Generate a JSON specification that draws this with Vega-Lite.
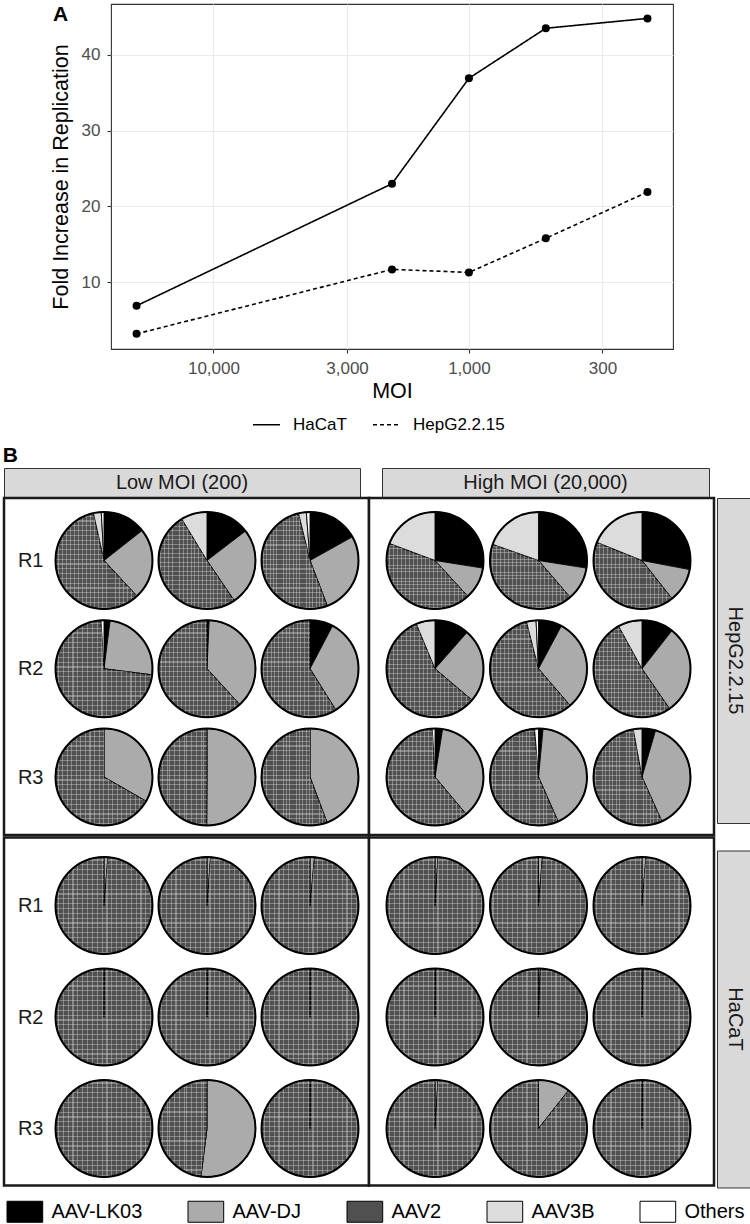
{
  "$schema": "https://vega.github.io/schema/vega-lite/v6.json",
  "padding": {"left": 2, "top": 1, "right": 0, "bottom": 0},
  "background": "white",
  "config": {
    "font": "Liberation Sans",
    "view": {"stroke": null},
    "concat": {"spacing": 0}
  },
  "params": [
    {"name": "gv", "value": {"gradient": "linear", "x1": 0, "y1": 0, "x2": 1, "y2": 0, "stops": [
      {"offset": 0, "color": "rgba(255,255,255,0)"},
      {"offset": 0.025, "color": "rgba(255,255,255,0)"}, {"offset": 0.025, "color": "rgba(215,215,215,0.4)"}, {"offset": 0.037, "color": "rgba(215,215,215,0.4)"}, {"offset": 0.037, "color": "rgba(255,255,255,0)"},
      {"offset": 0.075, "color": "rgba(255,255,255,0)"}, {"offset": 0.075, "color": "rgba(215,215,215,0.4)"}, {"offset": 0.087, "color": "rgba(215,215,215,0.4)"}, {"offset": 0.087, "color": "rgba(255,255,255,0)"},
      {"offset": 0.125, "color": "rgba(255,255,255,0)"}, {"offset": 0.125, "color": "rgba(215,215,215,0.4)"}, {"offset": 0.137, "color": "rgba(215,215,215,0.4)"}, {"offset": 0.137, "color": "rgba(255,255,255,0)"},
      {"offset": 0.175, "color": "rgba(255,255,255,0)"}, {"offset": 0.175, "color": "rgba(215,215,215,0.4)"}, {"offset": 0.187, "color": "rgba(215,215,215,0.4)"}, {"offset": 0.187, "color": "rgba(255,255,255,0)"},
      {"offset": 0.225, "color": "rgba(255,255,255,0)"}, {"offset": 0.225, "color": "rgba(215,215,215,0.4)"}, {"offset": 0.237, "color": "rgba(215,215,215,0.4)"}, {"offset": 0.237, "color": "rgba(255,255,255,0)"},
      {"offset": 0.275, "color": "rgba(255,255,255,0)"}, {"offset": 0.275, "color": "rgba(215,215,215,0.4)"}, {"offset": 0.287, "color": "rgba(215,215,215,0.4)"}, {"offset": 0.287, "color": "rgba(255,255,255,0)"},
      {"offset": 0.325, "color": "rgba(255,255,255,0)"}, {"offset": 0.325, "color": "rgba(215,215,215,0.4)"}, {"offset": 0.337, "color": "rgba(215,215,215,0.4)"}, {"offset": 0.337, "color": "rgba(255,255,255,0)"},
      {"offset": 0.375, "color": "rgba(255,255,255,0)"}, {"offset": 0.375, "color": "rgba(215,215,215,0.4)"}, {"offset": 0.387, "color": "rgba(215,215,215,0.4)"}, {"offset": 0.387, "color": "rgba(255,255,255,0)"},
      {"offset": 0.425, "color": "rgba(255,255,255,0)"}, {"offset": 0.425, "color": "rgba(215,215,215,0.4)"}, {"offset": 0.437, "color": "rgba(215,215,215,0.4)"}, {"offset": 0.437, "color": "rgba(255,255,255,0)"},
      {"offset": 0.475, "color": "rgba(255,255,255,0)"}, {"offset": 0.475, "color": "rgba(215,215,215,0.4)"}, {"offset": 0.487, "color": "rgba(215,215,215,0.4)"}, {"offset": 0.487, "color": "rgba(255,255,255,0)"},
      {"offset": 0.525, "color": "rgba(255,255,255,0)"}, {"offset": 0.525, "color": "rgba(215,215,215,0.4)"}, {"offset": 0.537, "color": "rgba(215,215,215,0.4)"}, {"offset": 0.537, "color": "rgba(255,255,255,0)"},
      {"offset": 0.575, "color": "rgba(255,255,255,0)"}, {"offset": 0.575, "color": "rgba(215,215,215,0.4)"}, {"offset": 0.587, "color": "rgba(215,215,215,0.4)"}, {"offset": 0.587, "color": "rgba(255,255,255,0)"},
      {"offset": 0.625, "color": "rgba(255,255,255,0)"}, {"offset": 0.625, "color": "rgba(215,215,215,0.4)"}, {"offset": 0.637, "color": "rgba(215,215,215,0.4)"}, {"offset": 0.637, "color": "rgba(255,255,255,0)"},
      {"offset": 0.675, "color": "rgba(255,255,255,0)"}, {"offset": 0.675, "color": "rgba(215,215,215,0.4)"}, {"offset": 0.687, "color": "rgba(215,215,215,0.4)"}, {"offset": 0.687, "color": "rgba(255,255,255,0)"},
      {"offset": 0.725, "color": "rgba(255,255,255,0)"}, {"offset": 0.725, "color": "rgba(215,215,215,0.4)"}, {"offset": 0.737, "color": "rgba(215,215,215,0.4)"}, {"offset": 0.737, "color": "rgba(255,255,255,0)"},
      {"offset": 0.775, "color": "rgba(255,255,255,0)"}, {"offset": 0.775, "color": "rgba(215,215,215,0.4)"}, {"offset": 0.787, "color": "rgba(215,215,215,0.4)"}, {"offset": 0.787, "color": "rgba(255,255,255,0)"},
      {"offset": 0.825, "color": "rgba(255,255,255,0)"}, {"offset": 0.825, "color": "rgba(215,215,215,0.4)"}, {"offset": 0.837, "color": "rgba(215,215,215,0.4)"}, {"offset": 0.837, "color": "rgba(255,255,255,0)"},
      {"offset": 0.875, "color": "rgba(255,255,255,0)"}, {"offset": 0.875, "color": "rgba(215,215,215,0.4)"}, {"offset": 0.887, "color": "rgba(215,215,215,0.4)"}, {"offset": 0.887, "color": "rgba(255,255,255,0)"},
      {"offset": 0.925, "color": "rgba(255,255,255,0)"}, {"offset": 0.925, "color": "rgba(215,215,215,0.4)"}, {"offset": 0.937, "color": "rgba(215,215,215,0.4)"}, {"offset": 0.937, "color": "rgba(255,255,255,0)"},
      {"offset": 0.975, "color": "rgba(255,255,255,0)"}, {"offset": 0.975, "color": "rgba(215,215,215,0.4)"}, {"offset": 0.987, "color": "rgba(215,215,215,0.4)"}, {"offset": 0.987, "color": "rgba(255,255,255,0)"},
      {"offset": 1, "color": "rgba(255,255,255,0)"}
    ]}},
    {"name": "gh", "value": {"gradient": "linear", "x1": 0, "y1": 0, "x2": 0, "y2": 1, "stops": [
      {"offset": 0, "color": "rgba(255,255,255,0)"},
      {"offset": 0.025, "color": "rgba(255,255,255,0)"}, {"offset": 0.025, "color": "rgba(215,215,215,0.4)"}, {"offset": 0.037, "color": "rgba(215,215,215,0.4)"}, {"offset": 0.037, "color": "rgba(255,255,255,0)"},
      {"offset": 0.075, "color": "rgba(255,255,255,0)"}, {"offset": 0.075, "color": "rgba(215,215,215,0.4)"}, {"offset": 0.087, "color": "rgba(215,215,215,0.4)"}, {"offset": 0.087, "color": "rgba(255,255,255,0)"},
      {"offset": 0.125, "color": "rgba(255,255,255,0)"}, {"offset": 0.125, "color": "rgba(215,215,215,0.4)"}, {"offset": 0.137, "color": "rgba(215,215,215,0.4)"}, {"offset": 0.137, "color": "rgba(255,255,255,0)"},
      {"offset": 0.175, "color": "rgba(255,255,255,0)"}, {"offset": 0.175, "color": "rgba(215,215,215,0.4)"}, {"offset": 0.187, "color": "rgba(215,215,215,0.4)"}, {"offset": 0.187, "color": "rgba(255,255,255,0)"},
      {"offset": 0.225, "color": "rgba(255,255,255,0)"}, {"offset": 0.225, "color": "rgba(215,215,215,0.4)"}, {"offset": 0.237, "color": "rgba(215,215,215,0.4)"}, {"offset": 0.237, "color": "rgba(255,255,255,0)"},
      {"offset": 0.275, "color": "rgba(255,255,255,0)"}, {"offset": 0.275, "color": "rgba(215,215,215,0.4)"}, {"offset": 0.287, "color": "rgba(215,215,215,0.4)"}, {"offset": 0.287, "color": "rgba(255,255,255,0)"},
      {"offset": 0.325, "color": "rgba(255,255,255,0)"}, {"offset": 0.325, "color": "rgba(215,215,215,0.4)"}, {"offset": 0.337, "color": "rgba(215,215,215,0.4)"}, {"offset": 0.337, "color": "rgba(255,255,255,0)"},
      {"offset": 0.375, "color": "rgba(255,255,255,0)"}, {"offset": 0.375, "color": "rgba(215,215,215,0.4)"}, {"offset": 0.387, "color": "rgba(215,215,215,0.4)"}, {"offset": 0.387, "color": "rgba(255,255,255,0)"},
      {"offset": 0.425, "color": "rgba(255,255,255,0)"}, {"offset": 0.425, "color": "rgba(215,215,215,0.4)"}, {"offset": 0.437, "color": "rgba(215,215,215,0.4)"}, {"offset": 0.437, "color": "rgba(255,255,255,0)"},
      {"offset": 0.475, "color": "rgba(255,255,255,0)"}, {"offset": 0.475, "color": "rgba(215,215,215,0.4)"}, {"offset": 0.487, "color": "rgba(215,215,215,0.4)"}, {"offset": 0.487, "color": "rgba(255,255,255,0)"},
      {"offset": 0.525, "color": "rgba(255,255,255,0)"}, {"offset": 0.525, "color": "rgba(215,215,215,0.4)"}, {"offset": 0.537, "color": "rgba(215,215,215,0.4)"}, {"offset": 0.537, "color": "rgba(255,255,255,0)"},
      {"offset": 0.575, "color": "rgba(255,255,255,0)"}, {"offset": 0.575, "color": "rgba(215,215,215,0.4)"}, {"offset": 0.587, "color": "rgba(215,215,215,0.4)"}, {"offset": 0.587, "color": "rgba(255,255,255,0)"},
      {"offset": 0.625, "color": "rgba(255,255,255,0)"}, {"offset": 0.625, "color": "rgba(215,215,215,0.4)"}, {"offset": 0.637, "color": "rgba(215,215,215,0.4)"}, {"offset": 0.637, "color": "rgba(255,255,255,0)"},
      {"offset": 0.675, "color": "rgba(255,255,255,0)"}, {"offset": 0.675, "color": "rgba(215,215,215,0.4)"}, {"offset": 0.687, "color": "rgba(215,215,215,0.4)"}, {"offset": 0.687, "color": "rgba(255,255,255,0)"},
      {"offset": 0.725, "color": "rgba(255,255,255,0)"}, {"offset": 0.725, "color": "rgba(215,215,215,0.4)"}, {"offset": 0.737, "color": "rgba(215,215,215,0.4)"}, {"offset": 0.737, "color": "rgba(255,255,255,0)"},
      {"offset": 0.775, "color": "rgba(255,255,255,0)"}, {"offset": 0.775, "color": "rgba(215,215,215,0.4)"}, {"offset": 0.787, "color": "rgba(215,215,215,0.4)"}, {"offset": 0.787, "color": "rgba(255,255,255,0)"},
      {"offset": 0.825, "color": "rgba(255,255,255,0)"}, {"offset": 0.825, "color": "rgba(215,215,215,0.4)"}, {"offset": 0.837, "color": "rgba(215,215,215,0.4)"}, {"offset": 0.837, "color": "rgba(255,255,255,0)"},
      {"offset": 0.875, "color": "rgba(255,255,255,0)"}, {"offset": 0.875, "color": "rgba(215,215,215,0.4)"}, {"offset": 0.887, "color": "rgba(215,215,215,0.4)"}, {"offset": 0.887, "color": "rgba(255,255,255,0)"},
      {"offset": 0.925, "color": "rgba(255,255,255,0)"}, {"offset": 0.925, "color": "rgba(215,215,215,0.4)"}, {"offset": 0.937, "color": "rgba(215,215,215,0.4)"}, {"offset": 0.937, "color": "rgba(255,255,255,0)"},
      {"offset": 0.975, "color": "rgba(255,255,255,0)"}, {"offset": 0.975, "color": "rgba(215,215,215,0.4)"}, {"offset": 0.987, "color": "rgba(215,215,215,0.4)"}, {"offset": 0.987, "color": "rgba(255,255,255,0)"},
      {"offset": 1, "color": "rgba(255,255,255,0)"}
    ]}}
  ],
  "datasets": {
    "lines": [
      {"cell": "HaCaT", "moi": 20000, "fold": 6.9},
      {"cell": "HaCaT", "moi": 2000, "fold": 23.0},
      {"cell": "HaCaT", "moi": 1000, "fold": 36.9},
      {"cell": "HaCaT", "moi": 500, "fold": 43.5},
      {"cell": "HaCaT", "moi": 200, "fold": 44.8},
      {"cell": "HepG2.2.15", "moi": 20000, "fold": 3.2},
      {"cell": "HepG2.2.15", "moi": 2000, "fold": 11.7},
      {"cell": "HepG2.2.15", "moi": 1000, "fold": 11.3},
      {"cell": "HepG2.2.15", "moi": 500, "fold": 15.8},
      {"cell": "HepG2.2.15", "moi": 200, "fold": 21.9}
    ],
    "pies": [
      {"cell": "HepG2.2.15", "moi": "Low", "rep": 1, "pie": 1, "AAV-LK03": 14.4, "AAV-DJ": 23.7, "AAV2": 58.4, "AAV3B": 2.6, "Others": 0.9},
      {"cell": "HepG2.2.15", "moi": "Low", "rep": 1, "pie": 2, "AAV-LK03": 14.6, "AAV-DJ": 25.9, "AAV2": 50.8, "AAV3B": 8.7, "Others": 0},
      {"cell": "HepG2.2.15", "moi": "Low", "rep": 1, "pie": 3, "AAV-LK03": 16.9, "AAV-DJ": 27.3, "AAV2": 52.0, "AAV3B": 2.6, "Others": 1.2},
      {"cell": "HepG2.2.15", "moi": "Low", "rep": 2, "pie": 1, "AAV-LK03": 2.0, "AAV-DJ": 25.0, "AAV2": 72.0, "AAV3B": 0, "Others": 1.0},
      {"cell": "HepG2.2.15", "moi": "Low", "rep": 2, "pie": 2, "AAV-LK03": 0.7, "AAV-DJ": 37.5, "AAV2": 61.8, "AAV3B": 0, "Others": 0},
      {"cell": "HepG2.2.15", "moi": "Low", "rep": 2, "pie": 3, "AAV-LK03": 7.7, "AAV-DJ": 33.4, "AAV2": 58.9, "AAV3B": 0, "Others": 0},
      {"cell": "HepG2.2.15", "moi": "Low", "rep": 3, "pie": 1, "AAV-LK03": 0, "AAV-DJ": 33.3, "AAV2": 66.7, "AAV3B": 0, "Others": 0},
      {"cell": "HepG2.2.15", "moi": "Low", "rep": 3, "pie": 2, "AAV-LK03": 0, "AAV-DJ": 50.1, "AAV2": 49.9, "AAV3B": 0, "Others": 0},
      {"cell": "HepG2.2.15", "moi": "Low", "rep": 3, "pie": 3, "AAV-LK03": 0, "AAV-DJ": 44.3, "AAV2": 55.7, "AAV3B": 0, "Others": 0},
      {"cell": "HepG2.2.15", "moi": "High", "rep": 1, "pie": 1, "AAV-LK03": 27.5, "AAV-DJ": 10.7, "AAV2": 42.5, "AAV3B": 19.3, "Others": 0},
      {"cell": "HepG2.2.15", "moi": "High", "rep": 1, "pie": 2, "AAV-LK03": 27.5, "AAV-DJ": 11.2, "AAV2": 41.7, "AAV3B": 19.6, "Others": 0},
      {"cell": "HepG2.2.15", "moi": "High", "rep": 1, "pie": 3, "AAV-LK03": 28.0, "AAV-DJ": 11.4, "AAV2": 41.7, "AAV3B": 18.9, "Others": 0},
      {"cell": "HepG2.2.15", "moi": "High", "rep": 2, "pie": 1, "AAV-LK03": 11.5, "AAV-DJ": 24.7, "AAV2": 57.5, "AAV3B": 6.3, "Others": 0},
      {"cell": "HepG2.2.15", "moi": "High", "rep": 2, "pie": 2, "AAV-LK03": 7.8, "AAV-DJ": 30.9, "AAV2": 57.3, "AAV3B": 3.2, "Others": 0.8},
      {"cell": "HepG2.2.15", "moi": "High", "rep": 2, "pie": 3, "AAV-LK03": 10.6, "AAV-DJ": 29.8, "AAV2": 51.6, "AAV3B": 8.0, "Others": 0},
      {"cell": "HepG2.2.15", "moi": "High", "rep": 3, "pie": 1, "AAV-LK03": 2.5, "AAV-DJ": 36.4, "AAV2": 60.2, "AAV3B": 0, "Others": 0.9},
      {"cell": "HepG2.2.15", "moi": "High", "rep": 3, "pie": 2, "AAV-LK03": 1.5, "AAV-DJ": 41.9, "AAV2": 55.3, "AAV3B": 0, "Others": 1.3},
      {"cell": "HepG2.2.15", "moi": "High", "rep": 3, "pie": 3, "AAV-LK03": 4.5, "AAV-DJ": 38.8, "AAV2": 53.8, "AAV3B": 2.9, "Others": 0},
      {"cell": "HaCaT", "moi": "Low", "rep": 1, "pie": 1, "AAV-LK03": 0, "AAV-DJ": 1.3, "AAV2": 98.7, "AAV3B": 0, "Others": 0},
      {"cell": "HaCaT", "moi": "Low", "rep": 1, "pie": 2, "AAV-LK03": 0, "AAV-DJ": 1.2, "AAV2": 98.8, "AAV3B": 0, "Others": 0},
      {"cell": "HaCaT", "moi": "Low", "rep": 1, "pie": 3, "AAV-LK03": 0, "AAV-DJ": 1.5, "AAV2": 98.5, "AAV3B": 0, "Others": 0},
      {"cell": "HaCaT", "moi": "Low", "rep": 2, "pie": 1, "AAV-LK03": 0, "AAV-DJ": 0.1, "AAV2": 99.9, "AAV3B": 0, "Others": 0},
      {"cell": "HaCaT", "moi": "Low", "rep": 2, "pie": 2, "AAV-LK03": 0, "AAV-DJ": 0.1, "AAV2": 99.9, "AAV3B": 0, "Others": 0},
      {"cell": "HaCaT", "moi": "Low", "rep": 2, "pie": 3, "AAV-LK03": 0, "AAV-DJ": 0.1, "AAV2": 99.9, "AAV3B": 0, "Others": 0},
      {"cell": "HaCaT", "moi": "Low", "rep": 3, "pie": 1, "AAV-LK03": 0, "AAV-DJ": 0, "AAV2": 100, "AAV3B": 0, "Others": 0},
      {"cell": "HaCaT", "moi": "Low", "rep": 3, "pie": 2, "AAV-LK03": 0, "AAV-DJ": 52.0, "AAV2": 48.0, "AAV3B": 0, "Others": 0},
      {"cell": "HaCaT", "moi": "Low", "rep": 3, "pie": 3, "AAV-LK03": 0, "AAV-DJ": 0.1, "AAV2": 99.9, "AAV3B": 0, "Others": 0},
      {"cell": "HaCaT", "moi": "High", "rep": 1, "pie": 1, "AAV-LK03": 0, "AAV-DJ": 1.0, "AAV2": 99.0, "AAV3B": 0, "Others": 0},
      {"cell": "HaCaT", "moi": "High", "rep": 1, "pie": 2, "AAV-LK03": 0, "AAV-DJ": 1.3, "AAV2": 98.7, "AAV3B": 0, "Others": 0},
      {"cell": "HaCaT", "moi": "High", "rep": 1, "pie": 3, "AAV-LK03": 0, "AAV-DJ": 1.3, "AAV2": 98.7, "AAV3B": 0, "Others": 0},
      {"cell": "HaCaT", "moi": "High", "rep": 2, "pie": 1, "AAV-LK03": 0, "AAV-DJ": 0.2, "AAV2": 99.8, "AAV3B": 0, "Others": 0},
      {"cell": "HaCaT", "moi": "High", "rep": 2, "pie": 2, "AAV-LK03": 0, "AAV-DJ": 0.6, "AAV2": 99.4, "AAV3B": 0, "Others": 0},
      {"cell": "HaCaT", "moi": "High", "rep": 2, "pie": 3, "AAV-LK03": 0, "AAV-DJ": 0.4, "AAV2": 99.6, "AAV3B": 0, "Others": 0},
      {"cell": "HaCaT", "moi": "High", "rep": 3, "pie": 1, "AAV-LK03": 0, "AAV-DJ": 1.0, "AAV2": 99.0, "AAV3B": 0, "Others": 0},
      {"cell": "HaCaT", "moi": "High", "rep": 3, "pie": 2, "AAV-LK03": 0, "AAV-DJ": 10.6, "AAV2": 89.4, "AAV3B": 0, "Others": 0},
      {"cell": "HaCaT", "moi": "High", "rep": 3, "pie": 3, "AAV-LK03": 0, "AAV-DJ": 0.2, "AAV2": 99.8, "AAV3B": 0, "Others": 0}
    ]
  },
  "resolve": {"scale": {"strokeDash": "independent"}, "legend": {"strokeDash": "independent"}},
  "spacing": 10,
  "vconcat": [
    {
      "spacing": 0,
      "resolve": {"scale": {"strokeDash": "independent"}, "legend": {"strokeDash": "independent"}},
      "hconcat": [
        {"width": 45, "height": 1, "data": {"values": [{}]}, "mark": {"type": "point", "opacity": 0}, "encoding": {}},
        {
          "width": 562,
          "height": 345,
          "title": {"text": "A", "anchor": "start", "frame": "bounds", "fontSize": 21, "fontWeight": "bold", "offset": -21, "dx": 3, "color": "black"},
          "view": {"stroke": "#333333", "strokeWidth": 1.1},
          "data": {"name": "lines"},
          "encoding": {
            "x": {
              "field": "moi", "type": "quantitative",
              "scale": {"type": "log", "domain": [158.9, 25180], "reverse": true, "nice": false},
              "axis": {"values": [10000, 3000, 1000, 300], "format": ",", "title": "MOI", "titleFontSize": 21.5, "titleFontWeight": "normal", "titleColor": "black", "titlePadding": 4, "labelFontSize": 17, "labelColor": "#4d4d4d", "labelPadding": 7, "tickSize": 4, "tickColor": "#333333", "tickWidth": 1.1, "domain": false, "grid": true, "gridColor": "#ebebeb", "gridWidth": 1.1, "labelFlush": false}
            },
            "y": {
              "field": "fold", "type": "quantitative",
              "scale": {"domain": [1.2, 46.7], "nice": false, "zero": false},
              "axis": {"values": [10, 20, 30, 40], "title": "Fold Increase in Replication", "titleFontSize": 21.5, "titleFontWeight": "normal", "titleColor": "black", "titlePadding": 9, "labelFontSize": 17, "labelColor": "#4d4d4d", "labelPadding": 7, "tickSize": 4, "tickColor": "#333333", "tickWidth": 1.1, "domain": false, "grid": true, "gridColor": "#ebebeb", "gridWidth": 1.1, "labelFlush": false}
            }
          },
          "layer": [
            {
              "mark": {"type": "line", "color": "black", "strokeWidth": 1.6},
              "encoding": {
                "strokeDash": {
                  "field": "cell", "type": "nominal",
                  "scale": {"domain": ["HaCaT", "HepG2.2.15"], "range": [[1, 0], [4, 3]]},
                  "legend": {"title": null, "orient": "none", "legendX": 141, "legendY": 406, "direction": "horizontal", "labelFontSize": 17, "labelColor": "black", "symbolType": "stroke", "symbolStrokeWidth": 1.6, "symbolSize": 729, "symbolStrokeColor": "black", "columnPadding": 22, "labelOffset": 12}
                }
              }
            },
            {
              "mark": {"type": "point", "filled": true, "color": "black", "size": 64, "opacity": 1},
              "encoding": {"detail": {"field": "cell"}}
            }
          ]
        }
      ]
    },
    {
      "title": {"text": "B", "anchor": "start", "fontSize": 21, "fontWeight": "bold", "offset": 2, "color": "black"},
      "spacing": -2,
      "vconcat": [
        {
          "spacing": 22,
          "bounds": "flush",
          "hconcat": [
            {"width": 356, "height": 29, "data": {"values": [{"label": "Low MOI (200)"}]}, "view": {"fill": "#d9d9d9", "stroke": "#333333", "strokeWidth": 1}, "mark": {"type": "text", "fontSize": 20, "color": "#1a1a1a"}, "encoding": {"text": {"field": "label"}}},
            {"width": 327, "height": 29, "data": {"values": [{"label": "High MOI (20,000)"}]}, "view": {"fill": "#d9d9d9", "stroke": "#333333", "strokeWidth": 1}, "mark": {"type": "text", "fontSize": 20, "color": "#1a1a1a"}, "encoding": {"text": {"field": "label"}}}
          ]
        },
        {
          "spacing": -2.5,
          "vconcat": [
            {
              "spacing": 0,
              "hconcat": [
                {
                  "spacing": 0,
                  "bounds": "flush",
                  "hconcat": [
                    {
                      "width": 365, "height": 337,
                      "view": {"stroke": "#1a1a1a", "strokeWidth": 2.5, "fill": "white"},
                      "data": {"name": "pies"},
                      "transform": [{"filter": "datum.cell === 'HepG2.2.15' && datum.moi === 'Low'"}],
                      "encoding": {
                        "x": {"field": "pie", "type": "quantitative", "scale": {"domain": [0.0291, 3.5728], "nice": false, "zero": false}, "axis": null},
                        "y": {"field": "rep", "type": "quantitative", "scale": {"domain": [0.4226, 3.5358], "nice": false, "zero": false, "reverse": true}, "axis": {"values": [1, 2, 3], "labelExpr": "'R' + datum.value", "orient": "left", "offset": -41, "ticks": false, "tickSize": 0, "domain": false, "grid": false, "labelPadding": 2, "labelFontSize": 20, "labelColor": "#1a1a1a", "title": null, "labelFlush": false, "labelOverlap": false}}
                      },
                      "layer": [
                        {
                          "transform": [
                            {"fold": ["AAV-LK03", "AAV-DJ", "AAV2", "AAV3B", "Others"], "as": ["serotype", "pct"]},
                            {"filter": "datum.pct > 0"},
                            {"stack": "pct", "groupby": ["rep", "pie"], "offset": "normalize", "as": ["t0", "t1"]}
                          ],
                          "encoding": {
                            "theta": {"field": "t0", "type": "quantitative", "stack": null, "scale": {"domain": [0, 1]}},
                            "theta2": {"field": "t1"}
                          },
                          "layer": [
                            {
                              "mark": {"type": "arc", "radius": 48.5, "stroke": "black", "strokeWidth": 0.9},
                              "encoding": {
                                "color": {"field": "serotype", "type": "nominal", "scale": {"domain": ["AAV-LK03", "AAV-DJ", "AAV2", "AAV3B", "Others"], "range": ["#000000", "#ababab", "#505050", "#dcdcdc", "#ffffff"]}, "legend": {"title": null, "orient": "bottom", "direction": "horizontal", "columns": 5, "symbolType": "M-1,-1H2.4V1H-1Z", "symbolSize": 441, "symbolStrokeColor": "black", "symbolStrokeWidth": 1, "symbolOpacity": 1, "labelFontSize": 20, "labelColor": "black", "columnPadding": 43, "labelOffset": 23, "offset": 10, "padding": 2.5}}
                              }
                            },
                            {"transform": [{"filter": "datum.serotype === 'AAV2'"}], "mark": {"type": "arc", "radius": 48.5, "strokeWidth": 0, "fill": {"expr": "gv"}}},
                            {"transform": [{"filter": "datum.serotype === 'AAV2'"}], "mark": {"type": "arc", "radius": 48.5, "strokeWidth": 0, "fill": {"expr": "gh"}}}
                          ]
                        },
                        {"mark": {"type": "point", "shape": "circle", "filled": false, "size": 9409, "stroke": "black", "strokeWidth": 2, "opacity": 1}}
                      ]
                    },
                    {
                      "width": 345, "height": 337,
                      "view": {"stroke": "#1a1a1a", "strokeWidth": 2.5, "fill": "white"},
                      "data": {"name": "pies"},
                      "transform": [{"filter": "datum.cell === 'HepG2.2.15' && datum.moi === 'High'"}],
                      "encoding": {
                        "x": {"field": "pie", "type": "quantitative", "scale": {"domain": [0.3623, 3.6957], "nice": false, "zero": false}, "axis": null},
                        "y": {"field": "rep", "type": "quantitative", "scale": {"domain": [0.4226, 3.5358], "nice": false, "zero": false, "reverse": true}, "axis": null}
                      },
                      "layer": [
                        {
                          "transform": [
                            {"fold": ["AAV-LK03", "AAV-DJ", "AAV2", "AAV3B", "Others"], "as": ["serotype", "pct"]},
                            {"filter": "datum.pct > 0"},
                            {"stack": "pct", "groupby": ["rep", "pie"], "offset": "normalize", "as": ["t0", "t1"]}
                          ],
                          "encoding": {
                            "theta": {"field": "t0", "type": "quantitative", "stack": null, "scale": {"domain": [0, 1]}},
                            "theta2": {"field": "t1"}
                          },
                          "layer": [
                            {
                              "mark": {"type": "arc", "radius": 48.5, "stroke": "black", "strokeWidth": 0.9},
                              "encoding": {
                                "color": {"field": "serotype", "type": "nominal", "scale": {"domain": ["AAV-LK03", "AAV-DJ", "AAV2", "AAV3B", "Others"], "range": ["#000000", "#ababab", "#505050", "#dcdcdc", "#ffffff"]}, "legend": {"title": null, "orient": "bottom", "direction": "horizontal", "columns": 5, "symbolType": "M-1,-1H2.4V1H-1Z", "symbolSize": 441, "symbolStrokeColor": "black", "symbolStrokeWidth": 1, "symbolOpacity": 1, "labelFontSize": 20, "labelColor": "black", "columnPadding": 43, "labelOffset": 23, "offset": 10, "padding": 2.5}}
                              }
                            },
                            {"transform": [{"filter": "datum.serotype === 'AAV2'"}], "mark": {"type": "arc", "radius": 48.5, "strokeWidth": 0, "fill": {"expr": "gv"}}},
                            {"transform": [{"filter": "datum.serotype === 'AAV2'"}], "mark": {"type": "arc", "radius": 48.5, "strokeWidth": 0, "fill": {"expr": "gh"}}}
                          ]
                        },
                        {"mark": {"type": "point", "shape": "circle", "filled": false, "size": 9409, "stroke": "black", "strokeWidth": 2, "opacity": 1}}
                      ]
                    }
                  ]
                },
                {"width": 35, "height": 325, "data": {"values": [{"label": "HepG2.2.15"}]}, "view": {"fill": "#d9d9d9", "stroke": "#333333", "strokeWidth": 1}, "mark": {"type": "text", "fontSize": 20, "angle": 90, "color": "#1a1a1a"}, "encoding": {"text": {"field": "label"}}}
              ]
            },
            {
              "spacing": 0,
              "hconcat": [
                {
                  "spacing": 0,
                  "bounds": "flush",
                  "hconcat": [
                    {
                      "width": 365, "height": 348,
                      "view": {"stroke": "#1a1a1a", "strokeWidth": 2.5, "fill": "white"},
                      "data": {"name": "pies"},
                      "transform": [{"filter": "datum.cell === 'HaCaT' && datum.moi === 'Low'"}],
                      "encoding": {
                        "x": {"field": "pie", "type": "quantitative", "scale": {"domain": [0.0291, 3.5728], "nice": false, "zero": false}, "axis": null},
                        "y": {"field": "rep", "type": "quantitative", "scale": {"domain": [0.3901, 3.5112], "nice": false, "zero": false, "reverse": true}, "axis": {"values": [1, 2, 3], "labelExpr": "'R' + datum.value", "orient": "left", "offset": -41, "ticks": false, "tickSize": 0, "domain": false, "grid": false, "labelPadding": 2, "labelFontSize": 20, "labelColor": "#1a1a1a", "title": null, "labelFlush": false, "labelOverlap": false}}
                      },
                      "layer": [
                        {
                          "transform": [
                            {"fold": ["AAV-LK03", "AAV-DJ", "AAV2", "AAV3B", "Others"], "as": ["serotype", "pct"]},
                            {"filter": "datum.pct > 0"},
                            {"stack": "pct", "groupby": ["rep", "pie"], "offset": "normalize", "as": ["t0", "t1"]}
                          ],
                          "encoding": {
                            "theta": {"field": "t0", "type": "quantitative", "stack": null, "scale": {"domain": [0, 1]}},
                            "theta2": {"field": "t1"}
                          },
                          "layer": [
                            {
                              "mark": {"type": "arc", "radius": 48.5, "stroke": "black", "strokeWidth": 0.9},
                              "encoding": {
                                "color": {"field": "serotype", "type": "nominal", "scale": {"domain": ["AAV-LK03", "AAV-DJ", "AAV2", "AAV3B", "Others"], "range": ["#000000", "#ababab", "#505050", "#dcdcdc", "#ffffff"]}, "legend": {"title": null, "orient": "bottom", "direction": "horizontal", "columns": 5, "symbolType": "M-1,-1H2.4V1H-1Z", "symbolSize": 441, "symbolStrokeColor": "black", "symbolStrokeWidth": 1, "symbolOpacity": 1, "labelFontSize": 20, "labelColor": "black", "columnPadding": 43, "labelOffset": 23, "offset": 10, "padding": 2.5}}
                              }
                            },
                            {"transform": [{"filter": "datum.serotype === 'AAV2'"}], "mark": {"type": "arc", "radius": 48.5, "strokeWidth": 0, "fill": {"expr": "gv"}}},
                            {"transform": [{"filter": "datum.serotype === 'AAV2'"}], "mark": {"type": "arc", "radius": 48.5, "strokeWidth": 0, "fill": {"expr": "gh"}}}
                          ]
                        },
                        {"mark": {"type": "point", "shape": "circle", "filled": false, "size": 9409, "stroke": "black", "strokeWidth": 2, "opacity": 1}}
                      ]
                    },
                    {
                      "width": 345, "height": 348,
                      "view": {"stroke": "#1a1a1a", "strokeWidth": 2.5, "fill": "white"},
                      "data": {"name": "pies"},
                      "transform": [{"filter": "datum.cell === 'HaCaT' && datum.moi === 'High'"}],
                      "encoding": {
                        "x": {"field": "pie", "type": "quantitative", "scale": {"domain": [0.3623, 3.6957], "nice": false, "zero": false}, "axis": null},
                        "y": {"field": "rep", "type": "quantitative", "scale": {"domain": [0.3901, 3.5112], "nice": false, "zero": false, "reverse": true}, "axis": null}
                      },
                      "layer": [
                        {
                          "transform": [
                            {"fold": ["AAV-LK03", "AAV-DJ", "AAV2", "AAV3B", "Others"], "as": ["serotype", "pct"]},
                            {"filter": "datum.pct > 0"},
                            {"stack": "pct", "groupby": ["rep", "pie"], "offset": "normalize", "as": ["t0", "t1"]}
                          ],
                          "encoding": {
                            "theta": {"field": "t0", "type": "quantitative", "stack": null, "scale": {"domain": [0, 1]}},
                            "theta2": {"field": "t1"}
                          },
                          "layer": [
                            {
                              "mark": {"type": "arc", "radius": 48.5, "stroke": "black", "strokeWidth": 0.9},
                              "encoding": {
                                "color": {"field": "serotype", "type": "nominal", "scale": {"domain": ["AAV-LK03", "AAV-DJ", "AAV2", "AAV3B", "Others"], "range": ["#000000", "#ababab", "#505050", "#dcdcdc", "#ffffff"]}, "legend": {"title": null, "orient": "bottom", "direction": "horizontal", "columns": 5, "symbolType": "M-1,-1H2.4V1H-1Z", "symbolSize": 441, "symbolStrokeColor": "black", "symbolStrokeWidth": 1, "symbolOpacity": 1, "labelFontSize": 20, "labelColor": "black", "columnPadding": 43, "labelOffset": 23, "offset": 10, "padding": 2.5}}
                              }
                            },
                            {"transform": [{"filter": "datum.serotype === 'AAV2'"}], "mark": {"type": "arc", "radius": 48.5, "strokeWidth": 0, "fill": {"expr": "gv"}}},
                            {"transform": [{"filter": "datum.serotype === 'AAV2'"}], "mark": {"type": "arc", "radius": 48.5, "strokeWidth": 0, "fill": {"expr": "gh"}}}
                          ]
                        },
                        {"mark": {"type": "point", "shape": "circle", "filled": false, "size": 9409, "stroke": "black", "strokeWidth": 2, "opacity": 1}}
                      ]
                    }
                  ]
                },
                {
                  "spacing": 12,
                  "bounds": "flush",
                  "vconcat": [
                    {"width": 35, "height": 1, "data": {"values": [{}]}, "mark": {"type": "point", "opacity": 0}, "encoding": {}},
                    {"width": 35, "height": 337, "data": {"values": [{"label": "HaCaT"}]}, "view": {"fill": "#d9d9d9", "stroke": "#333333", "strokeWidth": 1}, "mark": {"type": "text", "fontSize": 20, "angle": 90, "color": "#1a1a1a"}, "encoding": {"text": {"field": "label"}}}
                  ]
                }
              ]
            }
          ]
        }
      ]
    }
  ]
}
